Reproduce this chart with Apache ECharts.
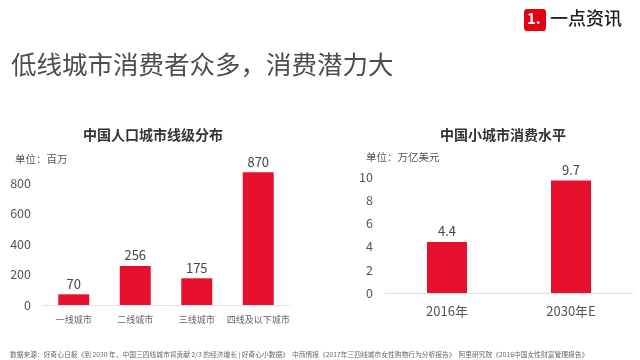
<!DOCTYPE html>
<html>
<head>
<meta charset="utf-8">
<script src="https://cdn.jsdelivr.net/npm/echarts@6/dist/echarts.min.js"></script>
<style>html,body{margin:0;padding:0;background:#fff;}#c{width:640px;height:360px;}</style>
</head>
<body>
<div id="c"></div>
<script>
var leftCategories = ['一线城市', '二线城市', '三线城市', '四线及以下城市'];
var leftValues = [70, 256, 175, 870];
var rightCategories = ['2016年', '2030年E'];
var rightValues = [4.4, 9.7];

var FONT = '"Noto Sans CJK SC", "Noto Sans", sans-serif';
var RED = '#E8112D';

var chart = echarts.init(document.getElementById('c'));
chart.setOption({
  backgroundColor: '#fff',
  textStyle: { fontFamily: FONT },
  title: [
    { text: '低线城市消费者众多，消费潜力大', left: 6, top: 47,
      textStyle: { fontSize: 25.5, fontWeight: 'normal', color: '#4d4d4d', fontFamily: FONT } },
    { text: '中国人口城市线级分布', left: 148, top: 123, textAlign: 'center',
      textStyle: { fontSize: 14, fontWeight: 'bold', color: '#333', fontFamily: FONT } },
    { text: '中国小城市消费水平', left: 498, top: 123, textAlign: 'center',
      textStyle: { fontSize: 14, fontWeight: 'bold', color: '#333', fontFamily: FONT } },
    { text: '单位：百万', left: 10, top: 149,
      textStyle: { fontSize: 10.5, fontWeight: 'normal', color: '#555', fontFamily: FONT } },
    { text: '单位：万亿美元', left: 361, top: 147,
      textStyle: { fontSize: 10.5, fontWeight: 'normal', color: '#555', fontFamily: FONT } },
    { text: '数据来源：好奇心日报《到 2030 年，中国三四线城市将贡献 2/3 的经济增长 | 好奇心小数据》  中商情报《2017年三四线城市女性购物行为分析报告》  阿里研究院《2016中国女性财富管理报告》',
      left: 5, top: 346,
      textStyle: { fontSize: 6.75, fontWeight: 'normal', color: '#666', fontFamily: FONT } }
  ],
  graphic: [
    { type: 'rect', left: 524, top: 9, shape: { width: 22, height: 22, r: 3 }, style: { fill: '#E60012' } },
    { type: 'text', left: 527, top: 11, style: { text: '1.', fill: '#fff', font: 'bold 15px ' + FONT } },
    { type: 'text', left: 550, top: 9, style: { text: '一点资讯', fill: '#222', font: '500 18px ' + FONT } }
  ],
  grid: [
    { left: 43, right: 351, top: 152.5, bottom: 55 },
    { left: 385, right: 7, top: 177, bottom: 67 }
  ],
  xAxis: [
    { type: 'category', gridIndex: 0, data: leftCategories,
      axisLine: { lineStyle: { color: '#e0e0e0' } }, axisTick: { show: false },
      axisLabel: { color: '#666', fontSize: 9, margin: 10, fontFamily: FONT, interval: 0 } },
    { type: 'category', gridIndex: 1, data: rightCategories,
      axisLine: { lineStyle: { color: '#e0e0e0' } }, axisTick: { show: false },
      axisLabel: { color: '#555', fontSize: 13, margin: 12, fontFamily: FONT } }
  ],
  yAxis: [
    { type: 'value', gridIndex: 0, min: 0, max: 1000, interval: 200,
      axisLine: { show: false }, axisTick: { show: false }, splitLine: { show: false },
      axisLabel: { color: '#555', fontSize: 12.5, margin: 12, showMaxLabel: false, fontFamily: FONT } },
    { type: 'value', gridIndex: 1, min: 0, max: 10, interval: 2,
      axisLine: { show: false }, axisTick: { show: false }, splitLine: { show: false },
      axisLabel: { color: '#555', fontSize: 12.5, margin: 12, fontFamily: FONT } }
  ],
  series: [
    { type: 'bar', xAxisIndex: 0, yAxisIndex: 0, data: leftValues, barWidth: 31,
      itemStyle: { color: RED },
      label: { show: true, position: 'top', distance: 4, color: '#444', fontSize: 13, fontFamily: FONT } },
    { type: 'bar', xAxisIndex: 1, yAxisIndex: 1, data: rightValues, barWidth: 40,
      itemStyle: { color: RED },
      label: { show: true, position: 'top', distance: 4, color: '#444', fontSize: 13, fontFamily: FONT } }
  ]
});
</script>
</body>
</html>
